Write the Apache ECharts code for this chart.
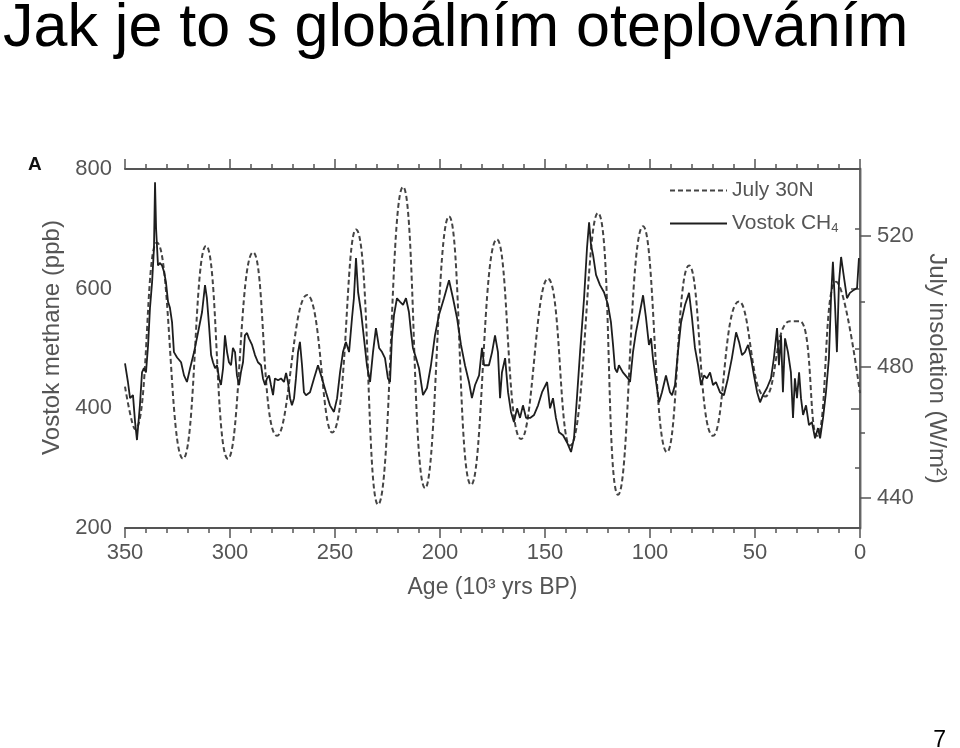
<!DOCTYPE html>
<html>
<head>
<meta charset="utf-8">
<title>Jak je to s globálním oteplováním</title>
<script src="https://cdn.jsdelivr.net/npm/echarts@6/dist/echarts.min.js"></script>
<style>
  html, body { margin: 0; padding: 0; background: #fff; }
  #chart { width: 960px; height: 748px; }
</style>
</head>
<body>
<div id="chart"></div>
<script>
// Vostok CH4 (ppb) vs age (kyr BP)
const ch4Age = [
  350, 348.6, 347.6, 346.2, 345.2, 344.3, 342.9, 341.9, 341.0, 340.0, 339.0, 338.1, 337.1, 336.2, 335.7, 335.2,
  334.3, 333.3, 332.4, 331.4, 330.5, 329.5, 328.6, 327.6, 326.7, 325.2, 323.3, 321.9, 320.5, 319.0, 317.1, 315.2,
  313.3, 311.9, 311.0, 310.0, 309.0, 308.1, 307.1, 306.2, 305.2, 304.3, 303.3, 302.4, 301.4, 300.5, 299.5, 298.6,
  297.6, 296.7, 295.7, 294.8, 293.8, 292.9, 291.9, 291.0, 289.5, 288.1, 286.7, 285.2, 284.3, 283.3, 282.4, 281.4,
  280.5, 279.5, 278.6, 277.1, 275.7, 274.3, 273.3, 272.4, 271.4, 270.5, 269.5, 268.6, 267.6, 266.7, 265.7, 264.8,
  263.8, 261.9, 260.0, 258.1, 256.2, 254.3, 252.4, 250.5, 249.0, 247.6, 246.2, 244.8, 243.3, 241.9, 241.0, 240.0,
  239.0, 237.6, 236.2, 234.8, 233.3, 231.9, 230.5, 229.0, 227.6, 226.2, 224.8, 223.8, 222.9, 221.9, 220.5, 219.0,
  217.6, 216.2, 214.8, 213.8, 212.9, 211.4, 210.0, 208.1, 206.2, 204.3, 202.4, 200.5, 198.1, 195.7, 193.8, 191.9,
  190.0, 188.1, 186.2, 184.8, 183.3, 181.4, 180.0, 179.0, 178.1, 176.7, 175.2, 173.8, 172.4, 171.4, 170.5, 169.0,
  167.6, 166.2, 164.8, 163.3, 161.9, 160.5, 159.0, 157.1, 155.2, 153.3, 151.4, 149.0, 147.6, 146.2, 144.8, 143.3,
  141.4, 139.5, 137.6, 136.2, 134.8, 133.3, 131.4, 130.0, 129.0, 128.1, 127.1, 125.7, 123.8, 121.9, 120.0, 118.6,
  117.6, 116.7, 115.7, 114.8, 112.9, 110.5, 109.5, 108.1, 106.7, 104.8, 103.3, 101.9, 100.5, 99.5, 98.6, 97.1,
  95.7, 94.3, 92.4, 90.5, 89.5, 88.1, 86.7, 85.2, 83.3, 81.4, 80.0, 78.6, 77.1, 75.7, 74.3, 72.9,
  71.4, 70.0, 68.6, 66.7, 64.8, 62.9, 61.0, 59.0, 57.6, 56.2, 54.8, 53.3, 51.9, 50.5, 49.0, 47.6,
  46.2, 44.3, 42.4, 41.0, 39.5, 38.6, 37.6, 36.7, 35.7, 34.3, 32.9, 31.9, 31.0, 30.0, 29.0, 28.1,
  27.1, 25.7, 24.3, 22.9, 21.4, 20.0, 19.0, 17.6, 16.2, 14.8, 13.8, 12.9, 11.9, 11.0, 10.0, 9.0,
  7.6, 6.2, 4.8, 2.9, 1.4, 0.5
];
const ch4Value = [
  475, 444, 417, 422, 377, 347, 405, 460, 467, 460, 506, 568, 611, 668, 778, 701,
  639, 643, 639, 628, 611, 578, 568, 544, 494, 485, 477, 455, 444, 467, 494, 527,
  561, 606, 584, 539, 489, 477, 467, 472, 450, 439, 467, 522, 494, 477, 472, 501,
  494, 455, 439, 460, 477, 522, 526, 517, 506, 489, 477, 472, 450, 439, 450, 455,
  439, 422, 450, 447, 450, 444, 459, 444, 417, 405, 417, 450, 494, 511, 472, 427,
  422, 427, 450, 472, 450, 427, 405, 394, 417, 460, 494, 511, 494, 551, 584, 651,
  594, 561, 517, 472, 444, 494, 534, 501, 494, 484, 450, 444, 517, 556, 584, 578,
  573, 584, 561, 527, 501, 484, 467, 422, 434, 472, 522, 556, 584, 614, 584, 551,
  506, 472, 444, 417, 439, 455, 501, 472, 472, 472, 494, 522, 494, 417, 460, 484,
  427, 394, 377, 400, 384, 405, 384, 384, 389, 405, 427, 444, 400, 417, 384, 360,
  355, 343, 327, 350, 417, 494, 584, 668, 711, 673, 656, 623, 606, 594, 573, 544,
  506, 467, 460, 472, 460, 450, 444, 494, 527, 561, 589, 551, 506, 517, 484, 444,
  410, 427, 455, 427, 422, 439, 494, 544, 573, 593, 551, 501, 472, 439, 455, 450,
  460, 439, 444, 427, 422, 450, 484, 527, 511, 489, 494, 506, 484, 455, 427, 410,
  422, 434, 450, 484, 534, 472, 522, 427, 517, 494, 460, 384, 450, 417, 460, 417,
  389, 405, 372, 377, 350, 367, 350, 384, 427, 484, 584, 645, 573, 494, 611, 653,
  618, 584, 593, 598, 601, 651
];

// July insolation at 30N (W/m2), turning points of the curve
const insAge = [350, 345.2, 334.8, 322.4, 311.4, 301.0, 289.0, 277.6, 263.3, 251.4, 240.0, 229.5, 217.6, 207.1, 195.7, 185.2,
  172.9, 161.4, 148.6, 138.1, 124.8, 115.2, 103.3, 91.9, 81.4, 70.0, 57.6, 45.2, 33.3, 28.6, 20.5, 11.4, 0];
const insValue = [474, 461, 518, 452, 517, 452, 515, 459, 502, 460, 522, 438, 535, 443, 526, 444,
  519, 458, 507, 456, 527, 441, 523, 454, 511, 459, 500, 471, 494, 494, 459, 506, 472];

const methaneTicks = [200, 400, 600, 800];
const insolationLabels = [440, 480, 520];
const insolationMinor = [460, 500];
const legendNames = ['July 30N', 'Vostok CH4'];

const font = 'Arial, "Liberation Sans", Helvetica, sans-serif';
const grey = '#555';

const chart = echarts.init(document.getElementById('chart'));

const tickText = { fontSize: 22, color: grey, fontFamily: font };
const nameText = { fontSize: 24, color: grey, fontFamily: font };

chart.setOption({
  animation: false,
  backgroundColor: '#fff',
  textStyle: { fontFamily: font },
  title: {
    text: 'Jak je to s globálním oteplováním',
    left: -2, top: -6,
    textStyle: { fontSize: 61, fontWeight: 'normal', color: '#000', fontFamily: font }
  },
  graphic: [
    { type: 'text', left: 28, top: 155, style: { text: 'A', font: 'bold 19px ' + font, fill: '#111' } },
    { type: 'text', right: 14, bottom: -4, style: { text: '7', font: '23px ' + font, fill: '#000' } }
  ],
  legend: {
    orient: 'vertical',
    left: 664, top: 175,
    itemWidth: 57, itemHeight: 12, itemGap: 12,
    data: legendNames,
    itemStyle: { opacity: 0 },
    formatter: name => name === 'Vostok CH4' ? 'Vostok CH{sub|4}' : name,
    textStyle: {
      fontSize: 21, color: grey, fontFamily: font,
      rich: { sub: { fontSize: 13, color: grey, padding: [10, 0, 0, 0] } }
    }
  },
  grid: { left: 125, right: 100, top: 169, bottom: 220 },
  xAxis: [
    {
      type: 'value', min: 0, max: 350, interval: 50, inverse: true, position: 'bottom',
      name: 'Age (10³ yrs BP)', nameLocation: 'middle', nameGap: 48,
      nameTextStyle: Object.assign({}, nameText, { fontSize: 23 }),
      axisLine: { lineStyle: { color: '#555', width: 2 } },
      axisTick: { length: 10, lineStyle: { color: '#555', width: 1.5 } },
      minorTick: { show: true, splitNumber: 5, length: 5, lineStyle: { color: '#555', width: 1.5 } },
      axisLabel: Object.assign({ margin: 14 }, tickText),
      splitLine: { show: false }
    },
    {
      type: 'value', min: 0, max: 350, interval: 50, inverse: true, position: 'top',
      axisLine: { lineStyle: { color: '#555', width: 2 } },
      axisTick: { length: 10, lineStyle: { color: '#555', width: 1.5 } },
      minorTick: { show: true, splitNumber: 5, length: 5, lineStyle: { color: '#555', width: 1.5 } },
      axisLabel: { show: false },
      splitLine: { show: false }
    }
  ],
  yAxis: [
    {
      type: 'value', min: 200, max: 800, interval: 200, position: 'left',
      name: 'Vostok methane (ppb)', nameLocation: 'middle', nameGap: 58,
      nameTextStyle: Object.assign({ padding: [0, 0, 0, 22] }, nameText),
      axisLine: { lineStyle: { color: '#bbb', width: 3 } },
      axisTick: { length: 9, lineStyle: { color: '#555', width: 1.5 } },
      minorTick: { show: true, splitNumber: 2, length: 5, lineStyle: { color: '#555', width: 1.5 } },
      axisLabel: Object.assign({ margin: 13, customValues: methaneTicks }, tickText),
      splitLine: { show: false }
    },
    {
      type: 'value', min: 430.84, max: 540.46, position: 'right',
      name: 'July insolation (W/m²)', nameLocation: 'middle', nameRotate: -90, nameGap: 58,
      nameTextStyle: Object.assign({ padding: [0, 0, 0, 40] }, nameText),
      axisLine: { lineStyle: { color: '#666', width: 2 } },
      axisTick: { customValues: insolationLabels, length: 11, lineStyle: { color: '#555', width: 1.5 } },
      axisLabel: Object.assign({ margin: 17, customValues: insolationLabels }, tickText),
      splitLine: { show: false }
    },
    {
      type: 'value', min: 430.84, max: 540.46, position: 'right',
      axisLine: { show: false },
      axisTick: { customValues: insolationMinor, length: 5, lineStyle: { color: '#555', width: 1.5 } },
      axisLabel: { show: false },
      splitLine: { show: false }
    }
  ],
  series: [
    {
      name: 'July 30N', type: 'line', xAxisIndex: 0, yAxisIndex: 1,
      data: insAge.map((a, i) => [a, insValue[i]]),
      smooth: 0.5, symbol: 'none',
      itemStyle: { color: '#444' },
      lineStyle: { color: '#444', width: 2, type: [5, 3] }
    },
    {
      name: 'Vostok CH4', type: 'line', xAxisIndex: 0, yAxisIndex: 0,
      data: ch4Age.map((a, i) => [a, ch4Value[i]]),
      symbol: 'none',
      itemStyle: { color: '#333' },
      lineStyle: { color: '#1e1e1e', width: 1.8 }
    }
  ]
});
</script>
</body>
</html>
